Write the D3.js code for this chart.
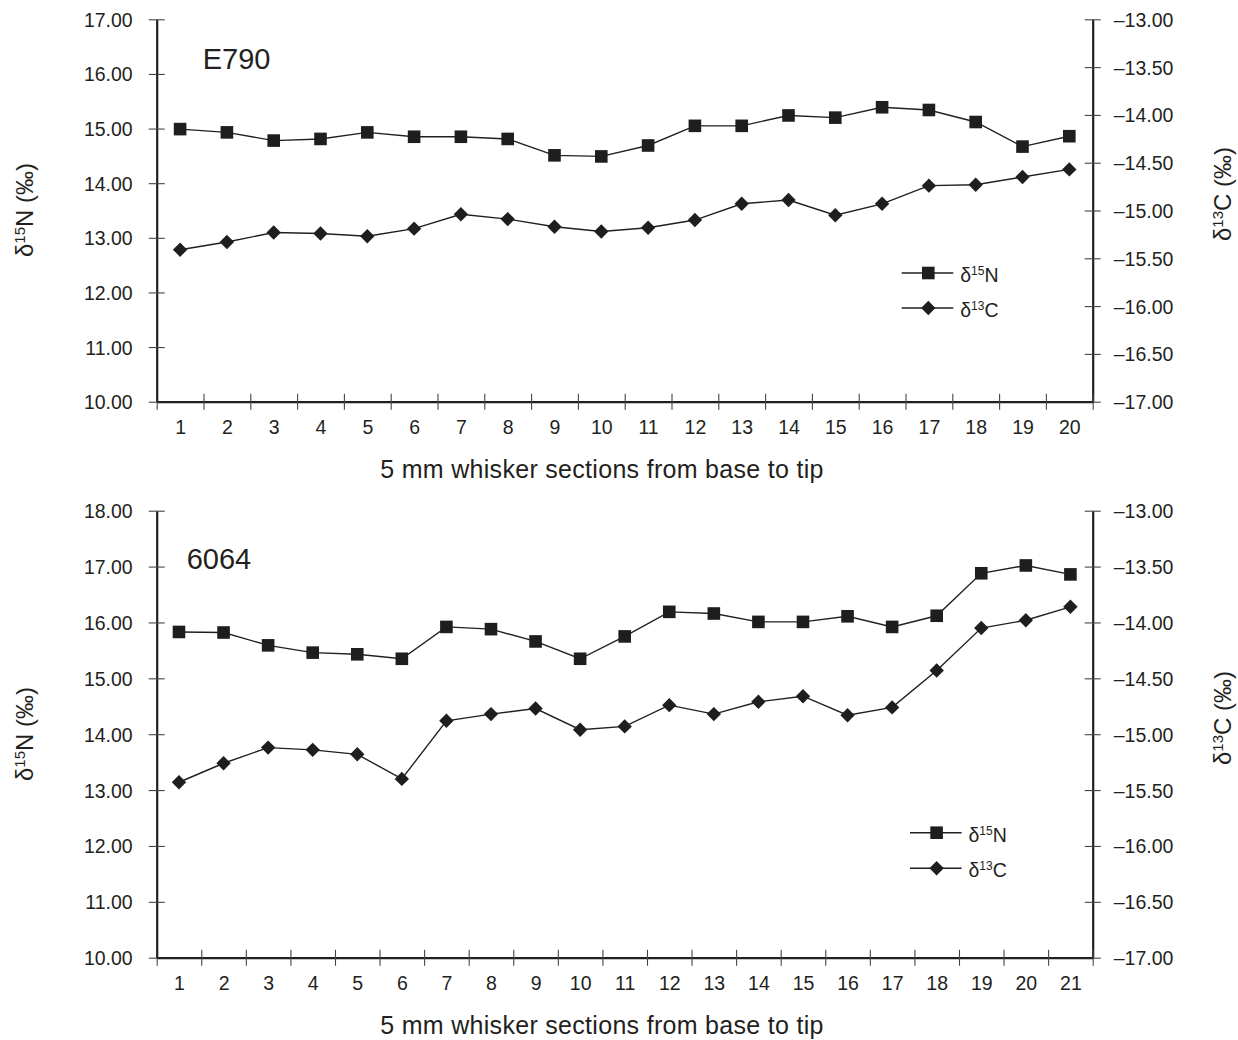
<!DOCTYPE html>
<html>
<head>
<meta charset="utf-8">
<script src="https://cdn.jsdelivr.net/npm/d3@7"></script>
<style>
  html, body { margin: 0; padding: 0; background: #fff; }
  svg { display: block; }
  text { font-family: "Liberation Sans", Arial, Helvetica, sans-serif; fill: #231f20; }
</style>
</head>
<body>
<svg id="chart" width="1238" height="1040"></svg>
<script>
// ---------- Data ----------
const sectionsE790 = [1,2,3,4,5,6,7,8,9,10,11,12,13,14,15,16,17,18,19,20];
const n15E790 = [14.99,14.93,14.78,14.81,14.93,14.85,14.85,14.81,14.51,14.49,14.69,15.05,15.05,15.24,15.20,15.39,15.34,15.12,14.67,14.86];
const c13E790 = [-15.41,-15.33,-15.23,-15.24,-15.27,-15.19,-15.04,-15.09,-15.17,-15.22,-15.18,-15.10,-14.93,-14.89,-15.05,-14.93,-14.74,-14.73,-14.65,-14.57];

const sections6064 = [1,2,3,4,5,6,7,8,9,10,11,12,13,14,15,16,17,18,19,20,21];
const n156064 = [15.83,15.82,15.59,15.46,15.43,15.35,15.92,15.88,15.66,15.35,15.75,16.19,16.16,16.01,16.01,16.11,15.92,16.12,16.88,17.02,16.86];
const c136064 = [-15.43,-15.26,-15.12,-15.14,-15.18,-15.40,-14.88,-14.82,-14.77,-14.96,-14.93,-14.74,-14.82,-14.71,-14.66,-14.83,-14.76,-14.43,-14.05,-13.98,-13.86];

const leftTicksE790 = [10,11,12,13,14,15,16,17];
const leftTicks6064 = [10,11,12,13,14,15,16,17,18];
const rightTicks = [-17,-16.5,-16,-15.5,-15,-14.5,-14,-13.5,-13];
const xTitle = "5 mm whisker sections from base to tip";

// ---------- Layout ----------
const svg = d3.select("#chart");
const L = 156.7, R = 1092.7;
const ink = "#231f20";
const markFill = "#1e1d20";
const tickFont = 19.5;

const panels = [
  { name: "E790", cats: sectionsE790, n: n15E790, c: c13E790, leftTicks: leftTicksE790,
    top: 19.3, bottom: 401.7, nameX: 202.7, nameY: 69,
    legX: 901.7, legY1: 273, legY2: 308, lTitleY: 210, rTitleY: 194 },
  { name: "6064", cats: sections6064, n: n156064, c: c136064, leftTicks: leftTicks6064,
    top: 510.7, bottom: 957.7, nameX: 186.7, nameY: 569.3,
    legX: 910, legY1: 832.7, legY2: 868.3, lTitleY: 734, rTitleY: 718 }
];

function diamondPath(s) {
  return `M0,${-s}L${s},0L0,${s}L${-s},0Z`;
}

function deltaLabel(sel, iso, rest, bigSize, supSize, rise) {
  sel.append("tspan").text("δ");
  sel.append("tspan").text(iso).attr("font-size", supSize).attr("dy", -rise);
  sel.append("tspan").text(rest).attr("dy", rise);
}

panels.forEach(p => {
  const nCat = p.cats.length;
  const x = d3.scaleLinear().domain([0.5, nCat + 0.5]).range([L, R]);
  const yL = d3.scaleLinear().domain([d3.min(p.leftTicks), d3.max(p.leftTicks)]).range([p.bottom, p.top]);
  const yR = d3.scaleLinear().domain([d3.min(rightTicks), d3.max(rightTicks)]).range([p.bottom, p.top]);

  const g = svg.append("g");

  // Left axis
  const gl = g.append("g").attr("transform", `translate(${L},0)`)
    .call(d3.axisLeft(yL).tickValues(p.leftTicks).tickFormat(d3.format(".2f")).tickSizeOuter(0).tickPadding(18));
  gl.selectAll(".tick line").attr("x1", -8).attr("x2", 8).attr("stroke", "#444").attr("stroke-width", 1.1);
  gl.select(".domain").attr("stroke", ink).attr("stroke-width", 2.2);
  gl.selectAll(".tick text").attr("font-size", tickFont).attr("fill", ink).attr("dy", "0.36em");

  // Right axis
  const gr = g.append("g").attr("transform", `translate(${R},0)`)
    .call(d3.axisRight(yR).tickValues(rightTicks).tickFormat(d => "–" + Math.abs(d).toFixed(2)).tickSizeOuter(0).tickPadding(15));
  gr.selectAll(".tick line").attr("x1", -8).attr("x2", 8).attr("stroke", "#444").attr("stroke-width", 1.1);
  gr.select(".domain").attr("stroke", ink).attr("stroke-width", 2.2);
  gr.selectAll(".tick text").attr("font-size", tickFont).attr("fill", ink).attr("dy", "0.36em");

  // Bottom axis: boundary ticks
  const bounds = d3.range(0, nCat + 1).map(i => i + 0.5);
  const gb = g.append("g").attr("transform", `translate(0,${p.bottom})`)
    .call(d3.axisBottom(x).tickValues(bounds).tickFormat("").tickSizeOuter(0));
  gb.selectAll(".tick line").attr("y1", d => d === 0.5 ? 0 : -8).attr("y2", 8).attr("stroke", "#444").attr("stroke-width", 1.1);
  gb.select(".domain").attr("stroke", ink).attr("stroke-width", 2.2);
  // Category labels
  const gc = g.append("g").attr("transform", `translate(0,${p.bottom})`)
    .call(d3.axisBottom(x).tickValues(p.cats).tickFormat(d3.format("d")).tickSize(0).tickPadding(18));
  gc.select(".domain").remove();
  gc.selectAll(".tick text").attr("font-size", tickFont).attr("fill", ink);

  // X title
  g.append("text").attr("x", 602).attr("y", p.bottom + 76.5)
    .attr("text-anchor", "middle").attr("font-size", 25).attr("letter-spacing", 0.3).text(xTitle);

  // Left title
  const lt = g.append("text").attr("font-size", 24)
    .attr("transform", `translate(33,${p.lTitleY}) rotate(-90)`)
    .attr("text-anchor", "middle");
  deltaLabel(lt, "15", "N (‰)", 24, 15, 8.5);

  // Right title
  const rt = g.append("text").attr("font-size", 24)
    .attr("transform", `translate(1231,${p.rTitleY}) rotate(-90)`)
    .attr("text-anchor", "middle");
  deltaLabel(rt, "13", "C (‰)", 24, 15, 8.5);

  // Panel name
  g.append("text").attr("x", p.nameX).attr("y", p.nameY).attr("font-size", 29).text(p.name);

  // Lines
  const lineN = d3.line().x((d, i) => x(p.cats[i])).y(d => yL(d));
  const lineC = d3.line().x((d, i) => x(p.cats[i])).y(d => yR(d));
  g.append("path").datum(p.n).attr("d", lineN).attr("fill", "none").attr("stroke", ink).attr("stroke-width", 1.4);
  g.append("path").datum(p.c).attr("d", lineC).attr("fill", "none").attr("stroke", ink).attr("stroke-width", 1.4);

  g.selectAll(".sq").data(p.n).enter().append("rect")
    .attr("x", (d, i) => x(p.cats[i]) - 6.3).attr("y", d => yL(d) - 6.3)
    .attr("width", 12.6).attr("height", 12.6).attr("fill", markFill);
  g.selectAll(".dm").data(p.c).enter().append("path")
    .attr("transform", (d, i) => `translate(${x(p.cats[i])},${yR(d)})`)
    .attr("d", diamondPath(7.2)).attr("fill", markFill);

  // Legend
  const lg = g.append("g");
  lg.append("line").attr("x1", p.legX).attr("x2", p.legX + 51.6).attr("y1", p.legY1).attr("y2", p.legY1).attr("stroke", ink).attr("stroke-width", 1.6);
  lg.append("rect").attr("x", p.legX + 26.6 - 6.3).attr("y", p.legY1 - 6.3).attr("width", 12.6).attr("height", 12.6).attr("fill", markFill);
  lg.append("line").attr("x1", p.legX).attr("x2", p.legX + 51.6).attr("y1", p.legY2).attr("y2", p.legY2).attr("stroke", ink).attr("stroke-width", 1.6);
  lg.append("path").attr("transform", `translate(${p.legX + 26.6},${p.legY2})`).attr("d", diamondPath(7.2)).attr("fill", markFill);

  const t1 = lg.append("text").attr("x", p.legX + 58.5).attr("y", p.legY1 + 9).attr("font-size", 19.5);
  deltaLabel(t1, "15", "N", 19.5, 12, 7);
  const t2 = lg.append("text").attr("x", p.legX + 58.5).attr("y", p.legY2 + 9).attr("font-size", 19.5);
  deltaLabel(t2, "13", "C", 19.5, 12, 7);
});
</script>
</body>
</html>
